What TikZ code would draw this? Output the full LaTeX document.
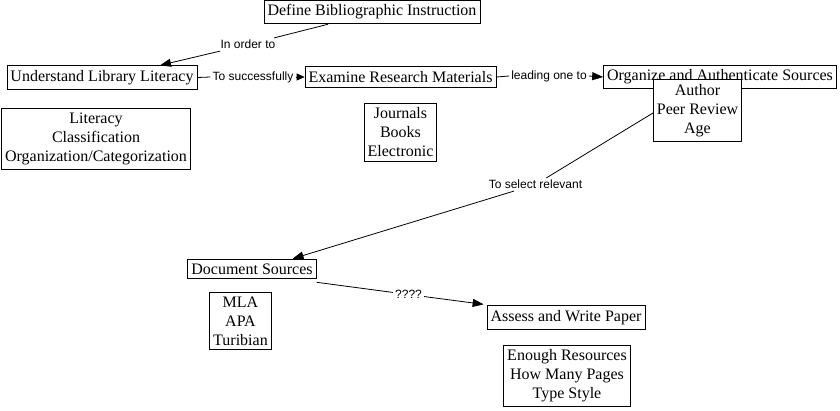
\documentclass[tikz,border=0pt]{standalone}
\usepackage{fontspec}
\setmainfont{Liberation Serif}
\newfontfamily\labelfont{Liberation Sans}
\usetikzlibrary{arrows.meta}
\begin{document}
\begin{tikzpicture}[x=1pt,y=-1pt,
  box/.style={draw,line width=0.8pt,fill=white,inner xsep=3.5pt,inner ysep=4.5pt,
    align=center,font=\fontsize{16}{19}\selectfont},
  lab/.style={inner sep=2pt,font=\labelfont\fontsize{12}{13}\selectfont},
  conn/.style={line width=0.8pt},
  tip/.style={-{Triangle[length=11pt,width=8pt]}},
  smalltip/.style={-{Triangle[length=8pt,width=7pt]}}]
\useasboundingbox (0,0) rectangle (840,410);
% boxes
\node[box] (def) at (372,12) {Define Bibliographic Instruction};
\node[box] (und) at (102,77.5) {Understand Library Literacy};
\node[box] (exa) at (400.5,77) {Examine Research Materials};
\node[box] (org) at (720,77) {Organize and Authenticate Sources};
\node[box] (auth) at (697.5,110.5) {Author\\Peer Review\\Age};
\node[box] (lit) at (96,139) {Literacy\\Classification\\Organization/Categorization};
\node[box] (jou) at (400.5,132.5) {Journals\\Books\\Electronic};
\node[box] (doc) at (252,269) {Document Sources};
\node[box] (mla) at (240.5,321) {MLA\\APA\\Turibian};
\node[box] (ass) at (566,317.5) {Assess and Write Paper};
\node[box] (eno) at (567,376) {Enough Resources\\How Many Pages\\Type Style};
% labels
\node[lab] (inord) at (248,44.5) {In order to};
\node[lab] (succ) at (253,77) {To successfully};
\node[lab] (lead) at (549,76) {leading one to};
\node[lab] (sel) at (535.5,184.5) {To select relevant};
\node[lab] (qq) at (408.5,294.5) {????};
% connectors
\draw[conn] ([xshift=-44pt]def.south) -- (inord);
\draw[conn,tip] (inord) -- ([xshift=58pt]und.north);
\draw[conn] (und.east) -- (succ.west);
\draw[conn,smalltip] (succ.east) -- (exa.west);
\draw[conn] (exa.east) -- (lead.west);
\draw[conn,tip] (lead.east) -- (org.west);
\draw[conn] ([yshift=-2.5pt]auth.west) -- (sel);
\draw[conn,tip] (sel) -- ([xshift=-24pt]doc.north east);
\draw[conn] ([yshift=-3pt]doc.south east) -- (qq);
\draw[conn,tip] (qq) -- ([xshift=-3pt,yshift=1pt]ass.north west);
\end{tikzpicture}
\end{document}
